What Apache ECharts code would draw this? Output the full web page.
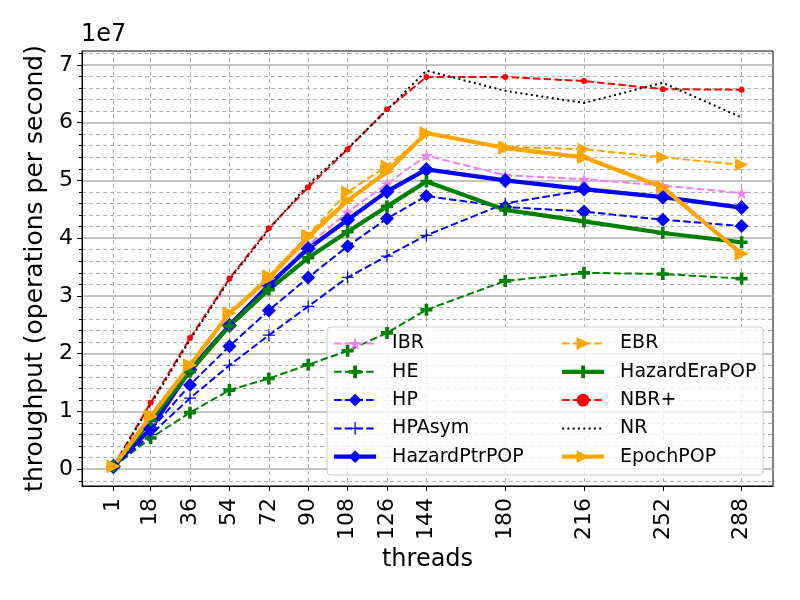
<!DOCTYPE html>
<html>
<head>
<meta charset="utf-8">
<script src="https://cdn.jsdelivr.net/npm/echarts@6/dist/echarts.min.js"></script>
<style>
  html, body { margin: 0; padding: 0; background: #fff; }
  #main { width: 800px; height: 600px; }
</style>
</head>
<body>
<div id="main"></div>
<script>
// thread counts on the x axis
var threads = [1, 18, 36, 54, 72, 90, 108, 126, 144, 180, 216, 252, 288];
// y ticks (throughput, labelled in units of 1e7)
var yMajorTicks = [0, 1e7, 2e7, 3e7, 4e7, 5e7, 6e7, 7e7];

// throughput (operations per second), one value per thread count
var IBR          = [0.05e7, 0.80e7, 1.72e7, 2.52e7, 3.20e7, 3.88e7, 4.45e7, 4.94e7, 5.43e7, 5.09e7, 5.02e7, 4.91e7, 4.78e7];
var HE           = [0.04e7, 0.54e7, 0.98e7, 1.37e7, 1.57e7, 1.81e7, 2.05e7, 2.36e7, 2.76e7, 3.26e7, 3.40e7, 3.38e7, 3.30e7];
var HP           = [0.04e7, 0.68e7, 1.46e7, 2.13e7, 2.75e7, 3.32e7, 3.86e7, 4.34e7, 4.73e7, 4.54e7, 4.46e7, 4.32e7, 4.21e7];
var HPAsym       = [0.04e7, 0.60e7, 1.23e7, 1.80e7, 2.32e7, 2.82e7, 3.32e7, 3.69e7, 4.05e7, 4.60e7, 4.83e7, 4.71e7, 4.52e7];
var HazardPtrPOP = [0.05e7, 0.70e7, 1.72e7, 2.49e7, 3.19e7, 3.82e7, 4.32e7, 4.81e7, 5.19e7, 5.00e7, 4.85e7, 4.71e7, 4.53e7];
var EBR          = [0.05e7, 0.93e7, 1.80e7, 2.70e7, 3.35e7, 4.05e7, 4.80e7, 5.25e7, 5.80e7, 5.58e7, 5.54e7, 5.40e7, 5.27e7];
var HazardEraPOP = [0.05e7, 0.85e7, 1.69e7, 2.48e7, 3.11e7, 3.66e7, 4.11e7, 4.55e7, 4.98e7, 4.49e7, 4.29e7, 4.09e7, 3.93e7];
var NBRplus      = [0.05e7, 1.15e7, 2.27e7, 3.30e7, 4.17e7, 4.88e7, 5.54e7, 6.23e7, 6.79e7, 6.79e7, 6.72e7, 6.58e7, 6.57e7];
var NR           = [0.05e7, 1.12e7, 2.24e7, 3.28e7, 4.15e7, 4.93e7, 5.55e7, 6.22e7, 6.90e7, 6.55e7, 6.34e7, 6.69e7, 6.09e7];
var EpochPOP     = [0.05e7, 0.91e7, 1.80e7, 2.70e7, 3.30e7, 4.02e7, 4.65e7, 5.15e7, 5.82e7, 5.56e7, 5.40e7, 4.88e7, 3.73e7];

// minor y ticks every 0.2e7 (the dashed grid)
var yMinorTicks = [];
for (var k = -1; k <= 36; k++) {
  if (k % 5 !== 0) yMinorTicks.push(k * 0.2e7);
}

var FONT = 'DejaVu Sans';
var GRID_C = '#b0b0b0';
var DASH = [7.5, 3.2];
var DOTS = [2, 3.3];
var THICK = 4.2;

var STAR = 'path://M50,0 L61.2,34.5 L97.6,34.5 L68.2,55.9 L79.4,90.5 L50,69.1 L20.6,90.5 L31.8,55.9 L2.4,34.5 L38.8,34.5 Z';
var FAT_PLUS = 'path://M35,0 H65 V35 H100 V65 H65 V100 H35 V65 H0 V35 H35 Z';
var THIN_PLUS = 'path://M45,0 H55 V45 H100 V55 H55 V100 H45 V55 H0 V45 H45 Z';

function pairs(vals) {
  var out = [];
  for (var i = 0; i < threads.length; i++) out.push([threads[i], vals[i]]);
  return out;
}

function mkSeries(name, vals, color, width, type, symbol, size, rotate, markColor) {
  return {
    name: name,
    type: 'line',
    data: pairs(vals),
    showAllSymbol: true,
    symbol: symbol,
    symbolSize: size,
    symbolRotate: rotate || 0,
    symbolKeepAspect: true,
    itemStyle: { color: markColor || color, borderWidth: 0 },
    lineStyle: { color: color, width: width, type: type },
    emphasis: { disabled: true }
  };
}

// legend entry; the thick ones get a thick sample line
function entry(name, thick) {
  return thick ? { name: name, lineStyle: { width: THICK } } : { name: name, lineStyle: { width: 2 } };
}

var myChart = echarts.init(document.getElementById('main'), null, { renderer: 'canvas' });

var legendText = { fontFamily: FONT, fontSize: 19, color: '#000', lineHeight: 19, padding: [0, 0, 0, 11] };

var option = {
  animation: false,
  backgroundColor: '#fff',
  textStyle: { fontFamily: FONT },
  title: {
    text: '1e7',
    left: 81,
    top: 23,
    padding: 0,
    textStyle: { fontFamily: FONT, fontSize: 24, fontWeight: 'normal', color: '#000' }
  },
  grid: {
    left: 82, top: 51, right: 27, bottom: 114,
    show: true, borderColor: '#000', borderWidth: 1, backgroundColor: 'transparent'
  },
  graphic: [{
    type: 'rect',
    z: 3,
    shape: { x: 327, y: 327, width: 436, height: 148, r: 4 },
    style: { fill: 'rgba(255,255,255,0.8)', stroke: '#cccccc', lineWidth: 1 }
  }],
  legend: [{
    orient: 'vertical',
    left: 332, top: 334, padding: 0,
    itemWidth: 42, itemHeight: 16, itemGap: 9.3,
    textStyle: legendText,
    data: [entry('IBR'), entry('HE'), entry('HP'), entry('HPAsym'), entry('HazardPtrPOP', true)]
  }, {
    orient: 'vertical',
    left: 560, top: 334, padding: 0,
    itemWidth: 42, itemHeight: 16, itemGap: 9.3,
    textStyle: legendText,
    data: [entry('EBR'), entry('HazardEraPOP', true), entry('NBR+'), entry('NR'), entry('EpochPOP', true)]
  }],
  xAxis: {
    type: 'value',
    min: -13.35,
    max: 302.35,
    name: 'threads',
    nameLocation: 'middle',
    nameGap: 60,
    nameTextStyle: { fontFamily: FONT, fontSize: 24, color: '#000' },
    axisLine: { show: true, onZero: false, lineStyle: { color: '#000', width: 1 } },
    axisTick: { show: true, length: 5, customValues: threads, lineStyle: { color: '#000' } },
    axisLabel: {
      customValues: threads,
      rotate: 90,
      margin: 12,
      fontFamily: FONT, fontSize: 22, color: '#000'
    },
    splitLine: { show: true, lineStyle: { color: GRID_C, width: 1, type: [4, 3] } }
  },
  yAxis: [{
    type: 'value',
    min: -0.29e7,
    max: 7.24e7,
    name: 'throughput (operations per second)',
    nameLocation: 'middle',
    nameGap: 28,
    nameTextStyle: { fontFamily: FONT, fontSize: 25, color: '#000' },
    axisLine: { show: true, onZero: false, lineStyle: { color: '#000', width: 1 } },
    axisTick: { show: true, length: 5, customValues: yMajorTicks, lineStyle: { color: '#000' } },
    axisLabel: {
      customValues: yMajorTicks,
      margin: 9,
      fontFamily: FONT, fontSize: 22, color: '#000',
      formatter: function (v) { return String(Math.round(v / 1e7)); }
    },
    splitLine: { show: true, lineStyle: { color: GRID_C, width: 1.5, type: 'solid' } },
    z: 1
  }, {
    type: 'value',
    min: -0.29e7,
    max: 7.24e7,
    position: 'left',
    axisLine: { show: false, onZero: false },
    axisTick: { show: true, length: 3, customValues: yMinorTicks, lineStyle: { color: '#000' } },
    axisLabel: { show: false, customValues: yMinorTicks },
    splitLine: { show: true, lineStyle: { color: GRID_C, width: 1, type: [4, 3] } },
    z: 0
  }],
  series: [
    mkSeries('IBR', IBR, '#ee82ee', 2, DASH, STAR, 13),
    mkSeries('HE', HE, '#008000', 2, DASH, FAT_PLUS, 12),
    mkSeries('HP', HP, '#0000ff', 2, DASH, 'diamond', 14),
    mkSeries('HPAsym', HPAsym, '#0000ff', 2, DASH, THIN_PLUS, 12),
    mkSeries('HazardPtrPOP', HazardPtrPOP, '#0000ff', THICK, 'solid', 'diamond', 15),
    mkSeries('EBR', EBR, '#ffa500', 2, DASH, 'triangle', 13, -90),
    mkSeries('HazardEraPOP', HazardEraPOP, '#008000', THICK, 'solid', FAT_PLUS, 12),
    mkSeries('NBR+', NBRplus, '#ff0000', 2, DASH, 'circle', 6),
    mkSeries('NR', NR, '#000000', 2, DOTS, 'none', 0, 0, 'rgba(0,0,0,0)'),
    mkSeries('EpochPOP', EpochPOP, '#ffa500', THICK, 'solid', 'triangle', 14, -90)
  ]
};

myChart.setOption(option);
</script>
</body>
</html>
